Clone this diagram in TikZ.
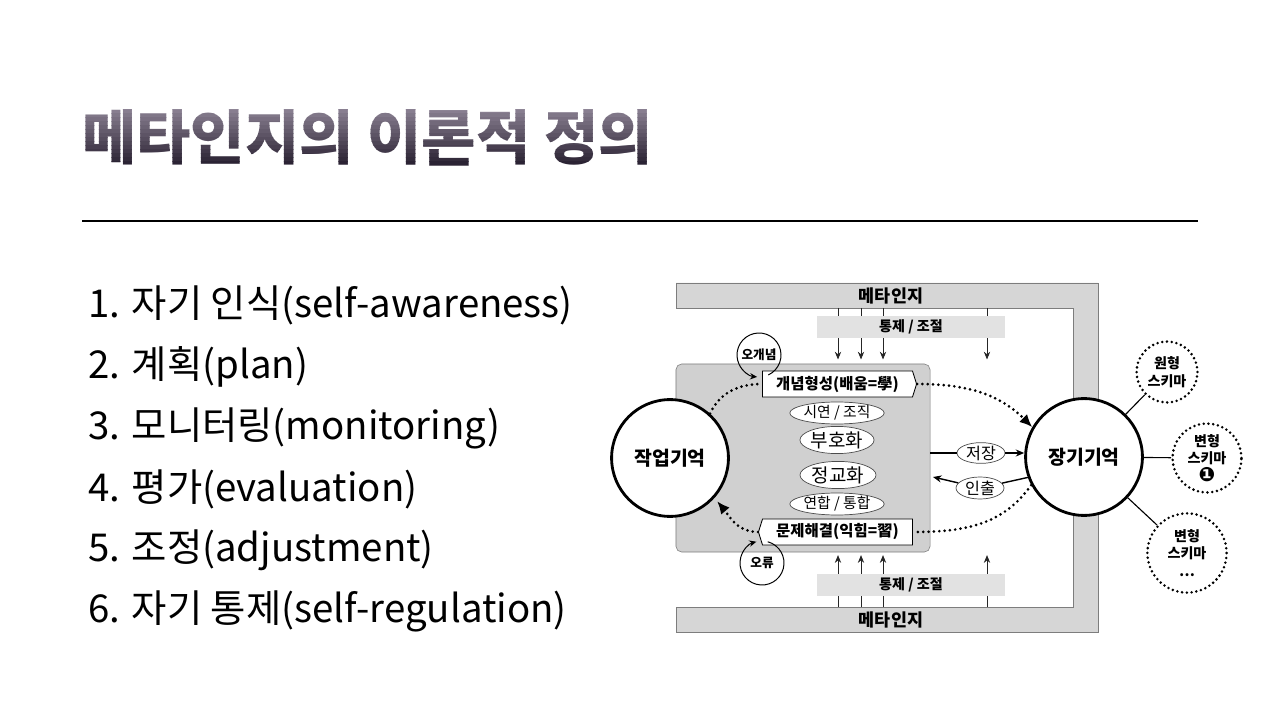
\documentclass[tikz,border=0pt]{standalone}
\usepackage{fontspec}
\setmainfont{Noto Sans CJK KR}
\newfontfamily\symfont{DejaVu Sans}
\usetikzlibrary{positioning,calc,arrows.meta,shapes.geometric,shapes.symbols}
\definecolor{TitleTop}{RGB}{142,132,150}
\definecolor{TitleBot}{RGB}{36,28,44}
\definecolor{BarGray}{RGB}{214,214,214}
\definecolor{BoxGray}{RGB}{208,208,208}
\definecolor{CtrlGray}{RGB}{226,226,226}
\definecolor{EdgeGray}{RGB}{125,125,125}
\tikzset{
  titlefont/.style={inner sep=0pt,anchor=west,font=\fontsize{42}{44}\selectfont\bfseries},
  item/.style={anchor=west,inner sep=0pt,font=\fontsize{27.3}{30}\selectfont},
  mem/.style={circle,draw=black,line width=2pt,fill=white,minimum size=2.92cm,inner sep=0pt,
    font=\fontsize{13.8}{15}\selectfont\bfseries},
  schema/.style={circle,draw=black,line width=2pt,dash pattern=on 0pt off 3.4pt,line cap=round,
    fill=white,inner sep=0pt,align=center,font=\fontsize{10}{12.5}\selectfont\bfseries},
  stage/.style={signal,draw=black,fill=white,line width=0.6pt,minimum height=0.65cm,
    minimum width=3.85cm,inner sep=1pt,signal pointer angle=145,font=\fontsize{11}{12}\selectfont\bfseries},
  proc/.style={ellipse,draw=black!70,fill=white,line width=0.5pt,inner sep=0pt},
  loopc/.style={circle,minimum size=1.1cm,inner sep=0pt,outer sep=0pt,font=\fontsize{9}{9}\selectfont\bfseries},
  ctrlbar/.style={fill=CtrlGray,minimum width=4.72cm,minimum height=0.53cm,inner sep=0pt,
    font=\fontsize{10}{11}\selectfont\bfseries},
  meta/.style={inner sep=0pt,font=\fontsize{12.4}{13}\selectfont\bfseries},
  ctrl/.style={draw=black!85,line width=0.6pt,-{Stealth[length=5.5pt,width=4.5pt]}},
  flow/.style={draw=black,line width=1pt,-{Stealth[length=6pt,width=5pt]}},
  dotflow/.style={line width=2.1pt,dash pattern=on 0pt off 3.8pt,line cap=round},
}
\begin{document}
\begin{tikzpicture}[x=0.025cm,y=0.025cm]
\useasboundingbox[fill=white] (0,0) rectangle (1280,-720);

\node[titlefont,text=white] (title) at (82,-138) {메타인지의 이론적 정의};
\foreach \i in {0,...,15}{
  \pgfmathtruncatemacro\p{\i*100/15}
  \begin{scope}
    \clip (70,{-106-4*\i}) rectangle (700,{-110-4*\i});
    \node[titlefont,text=TitleBot!\p!TitleTop] at (82,-138) {메타인지의 이론적 정의};
  \end{scope}
}
\draw[line width=0.8pt] (82,-221) -- (1198,-221);

\node[item] (item1) at (88,-305) {1. 자기 인식(self-awareness)};
\node[item] (item2) at (88,-367) {2. 계획(plan)};
\node[item] (item3) at (88,-428) {3. 모니터링(monitoring)};
\node[item] (item4) at (88,-489) {4. 평가(evaluation)};
\node[item] (item5) at (88,-550) {5. 조정(adjustment)};
\node[item] (item6) at (88,-611) {6. 자기 통제(self-regulation)};

\draw[draw=EdgeGray,fill=BarGray,line width=0.6pt] (676,-283) -- (1098,-283) -- (1098,-632) -- (676,-632)
  -- (676,-607) -- (1073,-607) -- (1073,-308) -- (676,-308) -- cycle;
\node[meta] (metatop) at (891,-296) {메타인지};
\node[meta] (metabot) at (891,-620) {메타인지};

\node[draw=EdgeGray,fill=BoxGray,rounded corners=4pt,minimum width=6.35cm,minimum height=4.7cm] (pbox) at (803,-458) {};

\coordinate (t1) at (838,-308);
\coordinate (t2) at (861,-308);
\coordinate (t3) at (883,-308);
\coordinate (t4) at (987,-308);
\coordinate (b1) at (838,-607);
\coordinate (b2) at (861,-607);
\coordinate (b3) at (883,-607);
\coordinate (b4) at (987,-607);
\draw[ctrl,shorten >=3pt] (t1) -- (t1 |- pbox.north);
\draw[ctrl,shorten >=3pt] (t2) -- (t2 |- pbox.north);
\draw[ctrl,shorten >=3pt] (t3) -- (t3 |- pbox.north);
\draw[ctrl,shorten >=3pt] (t4) -- (t4 |- pbox.north);
\draw[ctrl,shorten >=2pt] (b1) -- (b1 |- pbox.south);
\draw[ctrl,shorten >=2pt] (b2) -- (b2 |- pbox.south);
\draw[ctrl,shorten >=2pt] (b3) -- (b3 |- pbox.south);
\draw[ctrl,shorten >=2pt] (b4) -- (b4 |- pbox.south);
\node[ctrlbar] (ctltop) at (911,-327) {통제 / 조절};
\node[ctrlbar] (ctlbot) at (911,-585) {통제 / 조절};

\node[mem] (wm) at (670,-458) {작업기억};
\node[mem] (ltm) at (1084,-457) {장기기억};

\node[stage,signal to=east] (cf) at (837.5,-384) {개념형성(배움=學)};
\node[stage,signal to=west] (ps) at (837.5,-532) {문제해결(익힘=習)};
\node[proc,minimum width=2.28cm,minimum height=0.55cm,font=\fontsize{10.5}{11}\selectfont] (rehearse) at (837,-413) {시연 / 조직};
\node[proc,minimum width=1.83cm,minimum height=0.68cm,font=\fontsize{13.5}{14}\selectfont] (encode) at (837,-440) {부호화};
\node[proc,minimum width=1.9cm,minimum height=0.68cm,font=\fontsize{13.5}{14}\selectfont] (elab) at (838,-475) {정교화};
\node[proc,minimum width=2.28cm,minimum height=0.55cm,font=\fontsize{10.5}{11}\selectfont] (assoc) at (837,-504) {연합 / 통합};

\node[proc,minimum width=1.2cm,minimum height=0.5cm,font=\fontsize{11.5}{12}\selectfont] (store) at (981,-453) {저장};
\node[proc,minimum width=1.2cm,minimum height=0.55cm,font=\fontsize{11.5}{12}\selectfont] (recall) at (980,-488) {인출};
\coordinate (rin) at (933,-477);
\draw[line width=1pt] (pbox.east |- store) -- (store);
\draw[flow] (store) -- (store -| ltm.west);
\draw[line width=1pt] (ltm.200) -- (recall);
\draw[flow] (recall) -- (rin);

\draw[dotflow] (wm.48) to[out=65,in=180] (cf.west);
\draw[dotflow,-{Latex[length=9pt,width=8pt]}] (cf.east) to[out=0,in=135] (ltm.150);
\draw[dotflow] (ltm.208) to[out=235,in=0] (ps.east);
\draw[dotflow,shorten >=3pt,-{Latex[length=9pt,width=8pt]}] (ps.west) to[out=180,in=-50] (wm.-42);

\node[loopc] (miscon) at (759,-355) {오개념};
\draw[line width=0.7pt,-{Stealth[length=5pt,width=4.5pt]}] (miscon.-65) arc[start angle=-65,end angle=265,radius=0.55cm];
\node[loopc] (error) at (762,-563) {오류};
\draw[line width=0.7pt,-{Stealth[length=5pt,width=4.5pt]}] (error.75) arc[start angle=75,end angle=-255,radius=0.55cm];

\node[schema,minimum size=1.52cm] (proto) at (1167,-372) {원형\\스키마};
\node[schema,minimum size=1.72cm] (var1) at (1207,-458) {변형\\스키마\\{\symfont\fontsize{14}{12}\selectfont ❶}};
\node[schema,minimum size=1.98cm] (var2) at (1187,-553) {변형\\스키마\\…};
\draw[line width=0.8pt] (ltm) -- (proto);
\draw[line width=0.8pt] (ltm) -- (var1);
\draw[line width=0.8pt] (ltm) -- (var2);
\end{tikzpicture}
\end{document}
